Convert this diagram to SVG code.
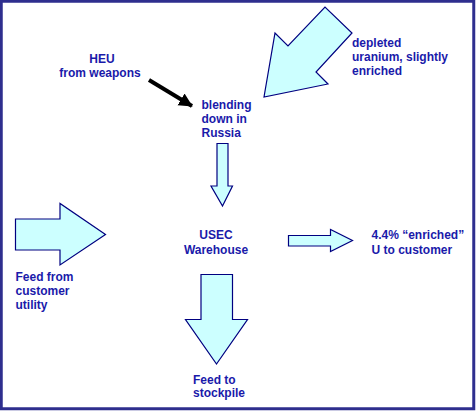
<svg xmlns="http://www.w3.org/2000/svg" width="476" height="411" viewBox="0 0 476 411">
<style>
.t{font-family:"Liberation Sans",Arial,sans-serif;font-weight:bold;font-size:12px;fill:#1a1aaa}
.ar{fill:#ccffff;stroke:#000080;stroke-width:1.2;stroke-linejoin:miter}
</style>
<defs>
<marker id="bh" markerWidth="4" markerHeight="4" refX="3.2" refY="2" orient="auto" markerUnits="strokeWidth">
<path d="M0,0.3 L3.4,2 L0,3.7 Z" fill="#000"/>
</marker>
</defs>
<rect x="0" y="0" width="476" height="411" fill="#ffffff"/>
<rect x="1.25" y="1.25" width="472.5" height="407.5" fill="none" stroke="#2e2e8e" stroke-width="3"/>
<g id="connectors">
<polygon class="ar" points="264,97 275,33 288,46 325,7 352,33 316,72 328,84"/>
<line x1="149" y1="80" x2="192" y2="106" stroke="#000" stroke-width="4" marker-end="url(#bh)"/>
<polygon class="ar" points="217,143.5 228,143.5 228,186 232.5,186 222.5,206 211,186 217,186"/>
<polygon class="ar" points="15.5,219 60,219 60,203.5 105.5,234.5 60,265 60,250 15.5,250"/>
<polygon class="ar" points="288.5,235.5 330.5,235.5 330.5,229.5 352.5,240.5 330.5,251.5 330.5,246 288.5,246"/>
<polygon class="ar" points="201,274.5 232.5,274.5 232.5,319.5 247.5,319.5 216.5,364 185.5,319.5 201,319.5"/>
</g>
<g id="heu"><text class="t" x="102" y="63" text-anchor="middle">HEU</text><text class="t" x="100" y="77" text-anchor="middle">from weapons</text></g>
<g id="depleted"><text class="t" x="352" y="47">depleted</text><text class="t" x="352" y="61">uranium, slightly</text><text class="t" x="352" y="74.5">enriched</text></g>
<g id="blending"><text class="t" x="201.5" y="109">blending</text><text class="t" x="201.5" y="123">down in</text><text class="t" x="201.5" y="137">Russia</text></g>
<g id="usec"><text class="t" x="216" y="239" text-anchor="middle">USEC</text><text class="t" x="216" y="253.5" text-anchor="middle">Warehouse</text></g>
<g id="enriched"><text class="t" x="371.5" y="239">4.4% “enriched”</text><text class="t" x="371.5" y="253.5">U to customer</text></g>
<g id="feedfrom"><text class="t" x="15.5" y="281">Feed from</text><text class="t" x="15.5" y="295">customer</text><text class="t" x="15.5" y="309">utility</text></g>
<g id="stockpile"><text class="t" x="193" y="383.5">Feed to</text><text class="t" x="193" y="397">stockpile</text></g>
</svg>
